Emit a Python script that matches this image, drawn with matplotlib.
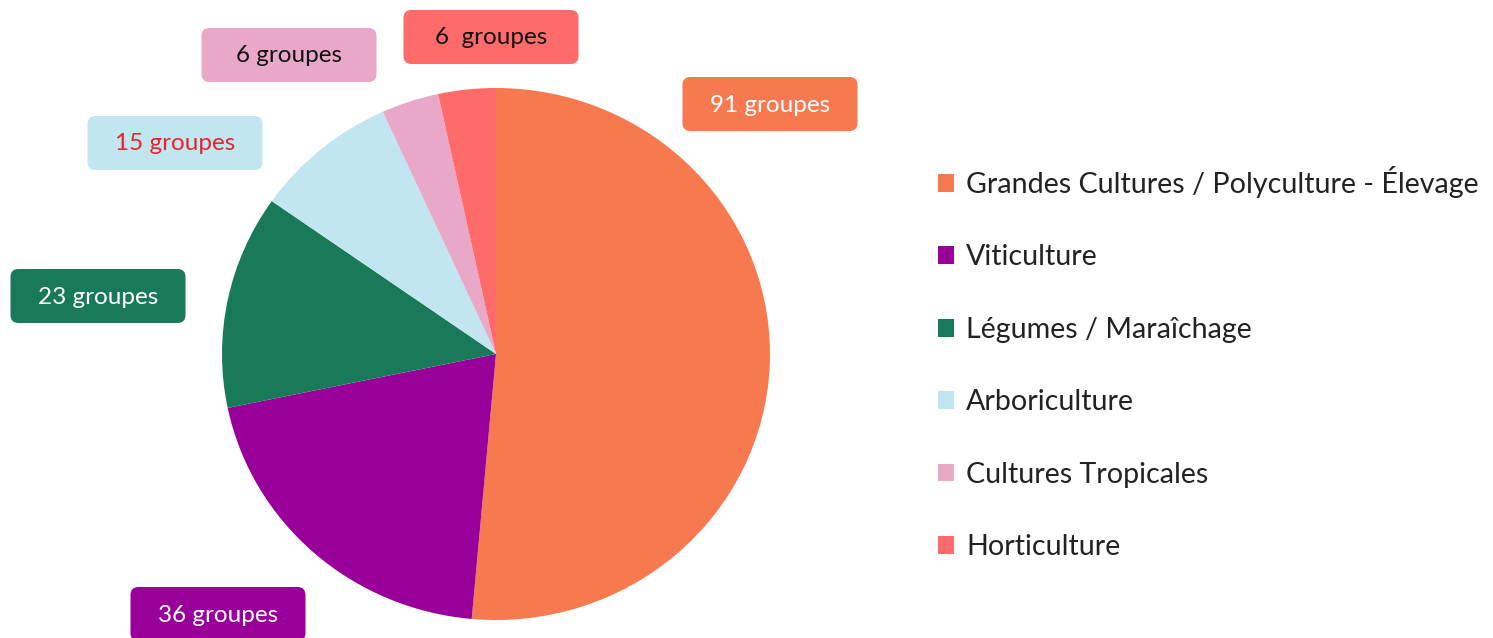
import matplotlib.pyplot as plt
from matplotlib.patches import FancyBboxPatch, Patch

plt.rcParams.update({
    "font.family": ["Lato", "DejaVu Sans"],
})

# data
categories = ['Grandes Cultures / Polyculture - Élevage', 'Viticulture',
              'Légumes / Maraîchage', 'Arboriculture', 'Cultures Tropicales',
              'Horticulture']
counts = [91, 36, 23, 15, 6, 6]
label_texts = ['91 groupes', '36 groupes', '23 groupes', '15 groupes',
               '6 groupes', '6  groupes']

# styles
colors = ['#F7794F', '#990099', '#187A58', '#C2E6F0', '#EAA8C8', '#FF6A6A']
label_colors = ['white', 'white', 'white', '#E8232A', '#111111', '#111111']
# label box centres in pixel coords (x, y from top)
label_pos = [(770, 104), (218, 614), (98, 296), (175, 143), (289, 55), (491, 37)]

W, H = 1493, 638
fig = plt.figure(figsize=(W / 100, H / 100), dpi=100)

# pie axes: the original pie is slightly wider than tall
pie_ax = fig.add_axes([222 / W, (H - 620) / H, 548 / W, 532 / H])
pie_ax.pie(counts, colors=colors, startangle=90, counterclock=False,
           radius=1, frame=True)
pie_ax.set_aspect('auto')
pie_ax.set_xlim(-1, 1)
pie_ax.set_ylim(-1, 1)
pie_ax.axis('off')

# overlay axes in pixel coordinates for the label boxes and legend
ax = fig.add_axes([0, 0, 1, 1])
ax.set_xlim(0, W)
ax.set_ylim(0, H)
ax.axis('off')

bw, bh = 175, 54
for txt, fc, tc, (cx, cy) in zip(label_texts, colors, label_colors, label_pos):
    box = FancyBboxPatch((cx - bw / 2, H - cy - bh / 2), bw, bh,
                         boxstyle='round,pad=0,rounding_size=8',
                         fc=fc, ec='none', zorder=3, clip_on=False)
    ax.add_patch(box)
    ax.text(cx, H - cy - 1, txt, color=tc, fontsize=17.5, ha='center',
            va='center', zorder=4)

handles = [Patch(facecolor=c, edgecolor='none') for c in colors]
leg = ax.legend(handles, categories, loc='center left',
                bbox_to_anchor=(912 / W, 1 - 363 / H), frameon=False,
                fontsize=20.6, handlelength=0.58, handleheight=0.58,
                handletextpad=0.42, labelspacing=1.62, labelcolor='#222222')

fig.savefig('out.png', dpi=100)
